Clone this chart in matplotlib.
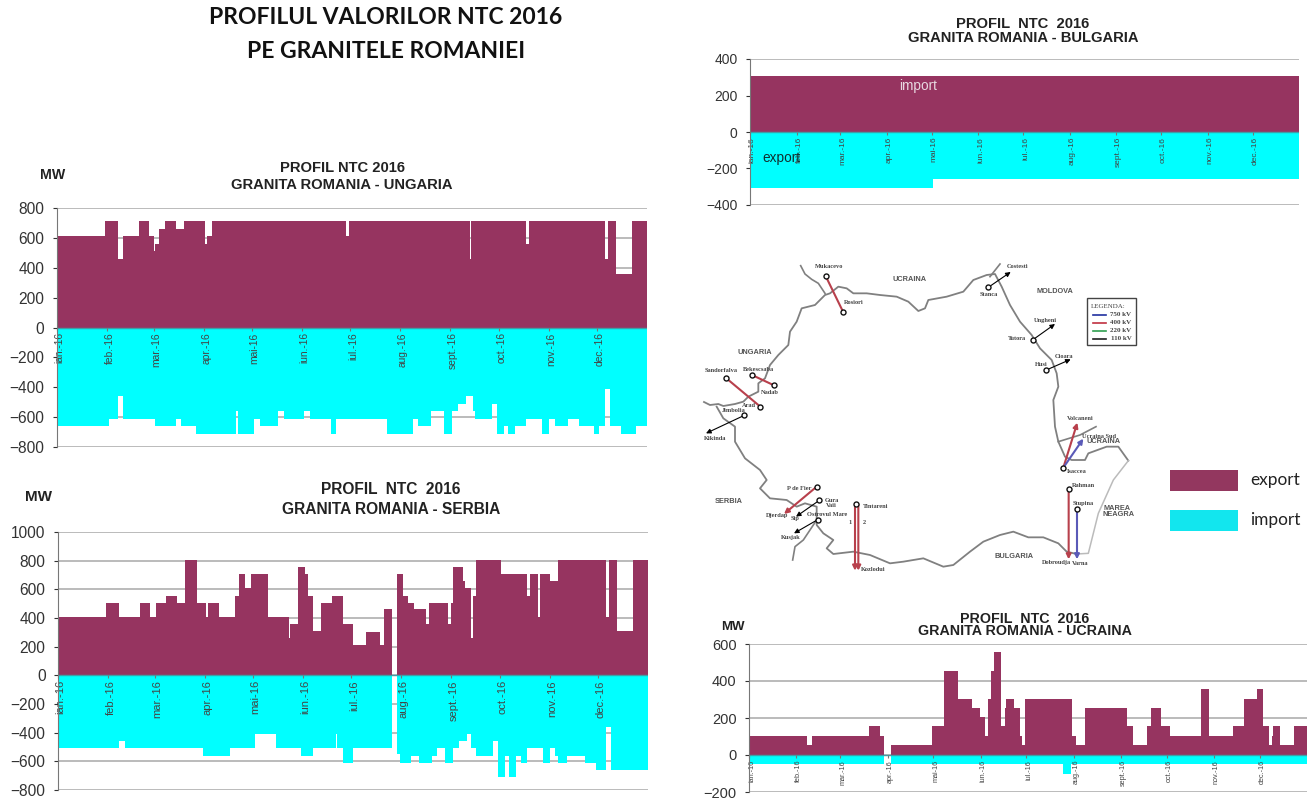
import matplotlib
matplotlib.use("Agg")
import matplotlib.pyplot as plt
from matplotlib.transforms import ScaledTranslation

# month ticks, day of year 2016
month_days = [0, 31, 60, 91, 121, 152, 182, 213, 244, 274, 305, 335]
month_labels = ["ian.-16", "feb.-16", "mar.-16", "apr.-16", "mai-16", "iun.-16",
                "iul.-16", "aug.-16", "sept.-16", "oct.-16", "nov.-16", "dec.-16"]

# Ungaria
hu_exp_days = [0, 30, 38, 41, 51, 57, 60, 61, 63, 67, 74, 79, 92, 93, 96, 179, 181, 256, 257, 291, 293, 340, 342, 347, 357, 366]
hu_exp_vals = [610, 710, 460, 610, 710, 610, 510, 560, 660, 710, 660, 710, 560, 610, 710, 610, 710, 460, 710, 560, 710, 460, 710, 360, 710]
hu_imp_days = [0, 32, 38, 41, 61, 74, 77, 86, 111, 112, 122, 126, 137, 141, 153, 157, 170, 173, 205, 221, 224, 232, 240, 245, 249, 254, 258, 259, 270, 273, 277.5, 280, 284, 291, 301, 305, 309, 317, 324, 333, 336, 340, 343, 350, 359, 366]
hu_imp_vals = [-660, -610, -460, -610, -660, -610, -660, -710, -560, -710, -610, -660, -560, -610, -560, -610, -710, -610, -710, -610, -660, -560, -710, -560, -510, -460, -560, -610, -510, -710, -660, -710, -660, -610, -710, -610, -660, -610, -660, -710, -660, -410, -660, -710, -660]

# Serbia
rs_exp_days = [0, 30, 38, 51, 57, 61, 67, 74, 79, 86, 92, 93, 100, 110, 112, 116, 120, 130, 143, 144, 149, 153, 155, 158, 163, 170, 177, 183, 191, 200, 202, 207.5, 210, 214, 217, 221, 228, 230, 242, 243.5, 245, 251, 252.5, 256, 257.5, 259, 275, 291, 293, 298, 299, 305, 310, 340, 342, 347, 357, 366]
rs_exp_vals = [410, 505, 410, 505, 410, 505, 555, 505, 805, 505, 410, 505, 410, 555, 705, 610, 705, 410, 260, 360, 755, 705, 555, 310, 505, 555, 360, 215, 305, 215, 460, 0, 705, 555, 505, 460, 360, 505, 360, 505, 755, 655, 610, 260, 555, 805, 710, 555, 710, 410, 710, 660, 805, 410, 805, 310, 805]
rs_imp_days = [0, 38, 41.5, 90, 107, 122, 135, 151, 158, 172.5, 173, 177, 183, 207.5, 210, 212, 219, 224, 232, 235, 240, 245, 249, 254, 256, 259, 270, 273, 277, 280, 284, 287, 291, 301, 305, 308, 310, 316, 327, 334, 340, 343, 366]
rs_imp_vals = [-510, -460, -510, -560, -510, -410, -510, -560, -510, -410, -510, -610, -510, 0, -550, -610, -560, -610, -560, -510, -610, -510, -460, -410, -510, -560, -460, -710, -560, -710, -560, -610, -510, -610, -510, -560, -610, -560, -610, -660, -360, -660]

# Bulgaria
bg_exp_days = [0, 366]
bg_exp_vals = [305]
bg_imp_days = [0, 122, 366]
bg_imp_vals = [-305, -255]

# Ucraina
ua_exp_days = [0, 38, 41, 79, 86, 88.5, 93, 120, 128, 137, 146.5, 151.5, 155, 156.5, 158.5, 161, 165, 168, 168.5, 174, 177.5, 179, 181, 212, 214.5, 220.5, 248, 252, 261, 264, 270.5, 276, 296.5, 301.5, 317.5, 324.5, 333.5, 337, 341, 343, 344, 348, 357.5, 366]
ua_exp_vals = [105, 55, 105, 155, 105, 0, 55, 155, 455, 305, 255, 205, 105, 305, 455, 555, 155, 255, 305, 255, 105, 55, 305, 105, 55, 255, 155, 55, 155, 255, 155, 105, 355, 105, 155, 305, 355, 155, 55, 105, 155, 55, 155]
ua_imp_days = [0, 88.5, 93, 206, 211, 366]
ua_imp_vals = [-50, 0, -50, -100, -50]

# harta, in coordonate de imagine
border_north = [(42, 456), (60, 465), (85, 462), (100, 468), (135, 462), (160, 455), (175, 440), (205, 425), (205, 400), (225, 385), (240, 345), (265, 315), (295, 285), (300, 245), (320, 215), (335, 175), (375, 165), (405, 135), (420, 130), (445, 110), (470, 115), (490, 130), (530, 130), (570, 135), (620, 140), (655, 155), (685, 183), (705, 175), (715, 150), (770, 140), (820, 125), (850, 90), (890, 75), (915, 72), (935, 110), (960, 165), (990, 215), (1025, 255), (1050, 295), (1085, 330), (1100, 370), (1105, 410), (1090, 450), (1095, 530), (1105, 575), (1125, 620), (1145, 630), (1185, 630), (1195, 610), (1250, 590), (1285, 590), (1315, 632)]
border_sea = [(1315, 632), (1270, 690), (1225, 790), (1195, 910), (1160, 912)]
border_south = [(1160, 912), (1130, 905), (1105, 880), (1060, 862), (1015, 862), (970, 845), (930, 855), (880, 875), (840, 905), (790, 945), (760, 950), (700, 925), (640, 935), (600, 940), (540, 915), (490, 905), (430, 912), (410, 895), (430, 870), (400, 850), (380, 825), (380, 770), (345, 760), (320, 770), (290, 750), (240, 745), (210, 715), (230, 690), (210, 660), (165, 625), (135, 575), (135, 530), (100, 505), (80, 470)]
border_extra = [
    [(332, 47), (345, 72), (365, 88), (385, 100), (405, 130)],
    [(900, 80), (930, 42)],
    [(1105, 575), (1170, 555), (1218, 530)],
    [(380, 810), (340, 870), (315, 890), (308, 930)],
]
red = "#b8404c"
blue = "#5a5ab8"
lines_plain = [((407, 78), (460, 187), red), ((186, 375), (252, 406), red), ((108, 384), (211, 470), red)]
lines_arrow = [
    ((895, 112), (962, 66), "k"), ((1029, 269), (1095, 222), "k"), ((1069, 360), (1142, 328), "k"),
    ((163, 496), (48, 550), "k"), ((380, 710), (282, 792), red), ((388, 751), (318, 800), "k"),
    ((383, 809), (312, 850), "k"), ((495, 763), (495, 962), red), ((505, 763), (505, 962), red),
    ((1120, 653), (1162, 518), red), ((1120, 653), (1180, 566), blue),
    ((1136, 716), (1136, 928), red), ((1161, 776), (1161, 928), blue),
]
stations = [(407, 78), (460, 187), (895, 112), (1029, 269), (1069, 360), (186, 375), (252, 406), (108, 384), (211, 470), (163, 496), (380, 710), (388, 751), (383, 809), (499, 763), (1120, 653), (1136, 716), (1161, 776)]
map_labels = [
    ("Mukacevo", 418, 51), ("Rosiori", 491, 158), ("Costesti", 984, 51), ("Stanca", 897, 134),
    ("Ungheni", 1067, 212), ("Tutora", 980, 265), ("Cioara", 1122, 318), ("Husi", 1054, 343),
    ("Sandorfalva", 92, 361), ("Bekescsaba", 204, 358), ("Nadab", 240, 428), ("Arad", 176, 467),
    ("Jimbolia", 130, 481), ("Kikinda", 74, 566), ("P de Fier", 328, 717), ("Gura", 426, 751),
    ("Vaii", 424, 767), ("Djerdap", 260, 797), ("Sip", 316, 806), ("Ostrovul Mare", 412, 794),
    ("Kusjak", 302, 861), ("Tintareni", 556, 768), ("Kozlodui", 549, 958), ("1", 480, 818), ("2", 524, 818),
    ("Volcaneni", 1172, 504), ("Ucraina Sud", 1226, 558), ("Isaccea", 1161, 664), ("Rahman", 1180, 706),
    ("Stupina", 1180, 760), ("Dobroudja", 1100, 937), ("Varna", 1172, 941),
]
map_regions = [
    ("UCRAINA", 659, 89), ("MOLDOVA", 1096, 125), ("UNGARIA", 194, 307), ("SERBIA", 115, 754),
    ("BULGARIA", 972, 920), ("UCRAINA", 1240, 575), ("MAREA", 1280, 774), ("NEAGRA", 1286, 794),
]
voltage_names = ["750 kV", "400 kV", "220 kV", "110 kV"]
voltage_colors = ["#2030a0", "#c03040", "#30a050", "#202020"]

EXPORT = "#963460"
IMPORT = "#00FFFF"
GRID = "#a8a8a8"
W, H = 1316, 798


def make_axes(fig, left, right, top, bottom):
    return fig.add_axes([left / W, 1 - bottom / H, (right - left) / W, (bottom - top) / H])


def ntc_chart(fig, box, ylim, yticks, exp, imp, ylab=11.2, xlab=8, ypad=6):
    ax = make_axes(fig, *box)
    ax.set_xlim(0, 366)
    ax.set_ylim(*ylim)
    ax.stairs(exp[1], exp[0], baseline=0, fill=True, color=EXPORT, lw=0, zorder=1)
    ax.stairs(imp[1], imp[0], baseline=0, fill=True, color=IMPORT, lw=0, zorder=1)
    ax.hlines(yticks, 0, 366, color=GRID, lw=1.1, zorder=0)
    ax.axhline(0, color="#3f9fa8", lw=1, zorder=1.2)
    for s in ["top", "right"]:
        ax.spines[s].set_visible(False)
    ax.spines["left"].set_color("#777777")
    ax.spines["bottom"].set_position(("data", 0))
    ax.spines["bottom"].set_visible(False)
    ax.set_yticks(yticks)
    ax.tick_params(axis="y", labelsize=ylab, colors="#333333", length=3, width=0.8, pad=ypad)
    ax.set_xticks(month_days)
    ax.set_xticklabels(month_labels, rotation=90, fontsize=xlab, color="#444444")
    ax.tick_params(axis="x", length=2.5, width=0.8, color="#777777", pad=1)
    # etichetele de luna stau putin la dreapta de tick
    shift = ScaledTranslation(2.5 / 100, 0, fig.dpi_scale_trans)
    for lab in ax.get_xticklabels():
        lab.set_transform(lab.get_transform() + shift)
    return ax


plt.rcParams["font.family"] = ["Liberation Sans", "DejaVu Sans"]
fig = plt.figure(figsize=(W / 100, H / 100), dpi=100)

ntc_chart(fig, (57, 647, 208, 447), (-800, 800), list(range(-800, 801, 200)),
          (hu_exp_days, hu_exp_vals), (hu_imp_days, hu_imp_vals), xlab=7.4)
ntc_chart(fig, (58, 648, 532, 790), (-800, 1000), list(range(-800, 1001, 200)),
          (rs_exp_days, rs_exp_vals), (rs_imp_days, rs_imp_vals))
ntc_chart(fig, (750, 1299, 59, 205), (-400, 400), [-400, -200, 0, 200, 400],
          (bg_exp_days, bg_exp_vals), (bg_imp_days, bg_imp_vals), ylab=10, xlab=6)
ntc_chart(fig, (749, 1307, 644, 792), (-200, 600), [-200, 0, 200, 400, 600],
          (ua_exp_days, ua_exp_vals), (ua_imp_days, ua_imp_vals), ylab=10.5, xlab=5.2)

# texte peste toata figura
top = fig.add_axes([0, 0, 1, 1], facecolor="none")
top.set_xlim(0, W)
top.set_ylim(H, 0)
top.axis("off")

title_font = ["Lato", "DejaVu Sans"]
top.text(386, 18, "PROFILUL VALORILOR NTC 2016", ha="center", va="center", fontsize=16.5,
         fontweight="bold", family=title_font, color="#111111")
top.text(386, 52, "PE GRANITELE ROMANIEI", ha="center", va="center", fontsize=16.5,
         fontweight="bold", family=title_font, color="#111111")


def chart_title(x, y1, y2, t1, t2, size):
    top.text(x, y1, t1, ha="center", va="center", fontsize=size, fontweight="bold", color="#222222")
    top.text(x, y2, t2, ha="center", va="center", fontsize=size, fontweight="bold", color="#222222")


chart_title(342, 168, 185, "PROFIL NTC 2016", "GRANITA ROMANIA - UNGARIA", 10.6)
chart_title(391, 490, 509, "PROFIL  NTC  2016", "GRANITA ROMANIA - SERBIA", 11.2)
chart_title(1023, 24, 38, "PROFIL  NTC  2016", "GRANITA ROMANIA - BULGARIA", 10.6)
chart_title(1025, 619, 631, "PROFIL  NTC  2016", "GRANITA ROMANIA - UCRAINA", 10.3)
top.text(53, 175, "MW", ha="center", va="center", fontsize=10.2, fontweight="bold", color="#222222")
top.text(39, 497, "MW", ha="center", va="center", fontsize=11, fontweight="bold", color="#222222")
top.text(733, 627, "MW", ha="center", va="center", fontsize=9.5, fontweight="bold", color="#222222")
top.text(918, 86, "import", ha="center", va="center", fontsize=9.8, color="#e8d8e0")
top.text(781, 158, "export", ha="center", va="center", fontsize=9.8, color="#103030")

# legenda din dreapta
top.add_patch(plt.Rectangle((1170, 470), 68, 21, color="#93375f", lw=0))
top.add_patch(plt.Rectangle((1170, 510), 68, 21, color="#12E6EE", lw=0))
top.text(1250, 480, "export", va="center", fontsize=12.4, family=title_font, color="#222222")
top.text(1250, 520, "import", va="center", fontsize=12.4, family=title_font, color="#222222")

# harta
mp = make_axes(fig, 690, 1150, 250, 590)
mp.set_xlim(0, 1380)
mp.set_ylim(1020, 0)
mp.axis("off")
mp.patch.set_alpha(0)

for pts, col, lw in [(border_north, "#808080", 1.3), (border_south, "#808080", 1.3), (border_sea, "#bbbbbb", 1.1)]:
    mp.plot([p[0] for p in pts], [p[1] for p in pts], color=col, lw=lw, solid_joinstyle="round", zorder=1)
for pts in border_extra:
    mp.plot([p[0] for p in pts], [p[1] for p in pts], color="#808080", lw=1.2, zorder=1)
for a, b, col in lines_plain:
    mp.plot([a[0], b[0]], [a[1], b[1]], color=col, lw=1.5, zorder=2)
for a, b, col in lines_arrow:
    mp.annotate("", xy=b, xytext=a, zorder=2,
                arrowprops=dict(arrowstyle="-|>", color=col, lw=1.5 if col != "k" else 0.8,
                                mutation_scale=7, shrinkA=0, shrinkB=0))
mp.scatter([p[0] for p in stations], [p[1] for p in stations], s=13, facecolor="white",
           edgecolor="#111111", linewidth=1, zorder=3)
for txt, x, y in map_labels:
    mp.text(x, y, txt, ha="center", va="center", fontsize=4.6, fontweight="bold",
            family=["Liberation Serif"], color="#444444", zorder=4)
for txt, x, y in map_regions:
    mp.text(x, y, txt, ha="center", va="center", fontsize=5.3, fontweight="bold", color="#555555", zorder=4)

mp.add_patch(plt.Rectangle((1190, 143), 147, 142, fill=False, edgecolor="#444444", lw=1))
mp.text(1256, 168, "LEGENDA:", ha="center", va="center", fontsize=5, family=["Liberation Serif"], color="#444444")
for i, (name, col) in enumerate(zip(voltage_names, voltage_colors)):
    y = 194 + i * 24
    mp.plot([1208, 1248], [y, y], color=col, lw=1.2)
    mp.text(1293, y, name, ha="center", va="center", fontsize=5, fontweight="bold",
            family=["Liberation Serif"], color="#444444")

fig.savefig("out.png", dpi=100)
